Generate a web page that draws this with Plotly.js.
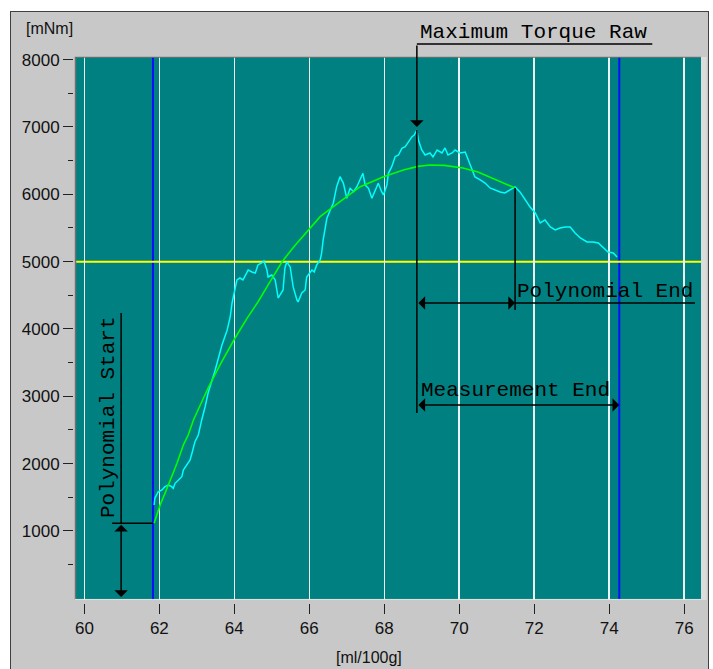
<!DOCTYPE html>
<html>
<head>
<meta charset="utf-8">
<script src="https://cdn.plot.ly/plotly-3.0.1.min.js"></script>
<style>
  html, body { margin: 0; padding: 0; background: #ffffff; overflow: hidden; }
  #frame { position: absolute; left: 10px; top: 11px; width: 697px; height: 700px;
           background: #C8C8C8; border: 1px solid #404040; }
  #chart { position: absolute; left: 0; top: 0; width: 713px; height: 669px; }
</style>
</head>
<body>
<div id="frame"></div>
<div id="chart"></div>
<script>
// ---- Raw torque measurement (cyan) ----
const rawX = [61.86, 61.88, 61.97, 62.07, 62.15, 62.24, 62.33, 62.37, 62.42, 62.51, 62.60, 62.64, 62.73, 62.82, 62.87, 62.91, 62.95, 63.04, 63.09, 63.13,
  63.22, 63.30, 63.49, 63.57, 63.67, 63.81, 63.89, 63.94, 64.07, 64.15, 64.23, 64.33, 64.37, 64.47, 64.56, 64.63, 64.73, 64.79, 64.87, 64.90,
  65.00, 65.09, 65.13, 65.17, 65.22, 65.30, 65.35, 65.40, 65.49, 65.53, 65.57, 65.67, 65.70, 65.80, 65.89, 65.93, 66.02, 66.07, 66.13, 66.20,
  66.29, 66.33, 66.37, 66.47, 66.56, 66.64, 66.73, 66.82, 66.91, 67.00, 67.09, 67.18, 67.27, 67.36, 67.43, 67.49, 67.58, 67.67, 67.76, 67.84,
  67.93, 67.98, 68.07, 68.11, 68.20, 68.29, 68.38, 68.47, 68.56, 68.64, 68.74, 68.80, 68.87, 68.91, 69.00, 69.09, 69.18, 69.22, 69.30, 69.41,
  69.54, 69.62, 69.70, 69.81, 69.89, 70.02, 70.16, 70.24, 70.34, 70.42, 70.56, 70.69, 70.82, 70.95, 71.09, 71.22, 71.36, 71.49, 71.62, 71.76,
  71.89, 72.03, 72.16, 72.29, 72.43, 72.56, 72.69, 72.83, 72.96, 73.09, 73.23, 73.41, 73.57, 73.71, 73.84, 73.97, 74.11, 74.21];
const rawY = [1386, 1485, 1583, 1609, 1658, 1683, 1658, 1634, 1708, 1757, 1806, 1906, 1980, 2054, 2154, 2228, 2326, 2425, 2574, 2649,
  2841, 3049, 3390, 3569, 3762, 3985, 4178, 4386, 4728, 4757, 4728, 4832, 4876, 4847, 4832, 4951, 4980, 5010, 4876, 4772,
  4802, 4728, 4609, 4460, 4505, 4579, 4906, 4995, 4921, 4772, 4624, 4431, 4401, 4535, 4579, 4772, 4847, 4876, 4847, 4951,
  5025, 5129, 5322, 5644, 5767, 5867, 6113, 6262, 6163, 5941, 6089, 6039, 6113, 6212, 6312, 6138, 6089, 5941, 6064, 6163,
  6039, 5990, 6138, 6312, 6410, 6559, 6584, 6683, 6707, 6782, 6856, 6881, 6955, 6807, 6658, 6584, 6609, 6614, 6554, 6658,
  6614, 6688, 6584, 6614, 6658, 6614, 6628, 6510, 6361, 6257, 6213, 6168, 6094, 6064, 6035, 6020, 6064, 6109, 6035, 5916,
  5812, 5723, 5574, 5619, 5515, 5470, 5500, 5515, 5515, 5426, 5352, 5292, 5292, 5277, 5203, 5144, 5129, 5069];

// ---- Polynomial fit (green) ----
const polyX = [61.86, 62.02, 62.15, 62.33, 62.47, 62.64, 62.77, 62.91, 63.30, 63.65, 64.02, 64.33, 64.63, 64.95, 65.27, 65.60, 65.97, 66.29, 66.82, 67.36,
  67.98, 68.51, 68.90, 69.22, 69.60, 70.10, 70.50, 70.82, 71.20, 71.49];
const polyY = [1114, 1386, 1559, 1806, 2005, 2277, 2425, 2648, 3123, 3500, 3866, 4150, 4401, 4700, 4995, 5230, 5470, 5668, 5890, 6113,
  6262, 6361, 6415, 6435, 6430, 6391, 6330, 6257, 6170, 6094];

// ---- Markers / reference values ----
const blueLineX = [61.83, 74.27];      // polynomial start / measurement end
const thresholdY = 5000;               // yellow limit
const xTicks = [60, 62, 64, 66, 68, 70, 72, 74, 76];
const yTicks = [1000, 2000, 3000, 4000, 5000, 6000, 7000, 8000];
const yMinorTicks = [500, 1500, 2500, 3500, 4500, 5500, 6500, 7500];
const labels = { maxRaw: 'Maximum Torque Raw', polyEnd: 'Polynomial End', measEnd: 'Measurement End', polyStart: 'Polynomial Start' };
const yUnit = '[mNm]', xUnit = '[ml/100g]';

// derived points
let pk = 0; rawY.forEach((v, i) => { if (v > rawY[pk]) pk = i; });
const peakX = rawX[pk], peakY = rawY[pk];
const polyStartX = blueLineX[0], polyStartY = polyY[0];
const polyEndX = polyX[polyX.length - 1], polyEndY = polyY[polyY.length - 1];
const measEndX = blueLineX[1];

// annotation helper levels (data units)
const polyEndArrowY = 4386, polyEndLineBottom = 4283, polyEndLineRight = 76.29;
const measArrowY = 2871, peakLineBottom = 2752;
const psLineX = 60.98, psLineTop = 4237, psHookLeft = 60.74, psArrowBottom = 20;
const maxLabelRight = 75.15;

const mono = { family: 'Liberation Mono, Courier New, monospace', size: 21, color: '#000' };
const black = { color: '#000', width: 1.5 };

const traces = [
  { x: rawX, y: rawY, type: 'scatter', mode: 'lines', line: { color: '#00FFFF', width: 1.5 }, hoverinfo: 'skip' },
  { x: polyX, y: polyY, type: 'scatter', mode: 'lines', line: { color: '#00FF00', width: 1.6 }, hoverinfo: 'skip' }
];

const shapes = [
  // blue marker lines
  ...blueLineX.map(v => ({ type: 'line', xref: 'x', yref: 'paper', x0: v, x1: v, y0: 0.0055, y1: 1, line: { color: '#0010FF', width: 2 }, layer: 'between' })),
  // yellow threshold
  { type: 'line', xref: 'paper', yref: 'y', x0: 0.0032, x1: 1, y0: thresholdY, y1: thresholdY, line: { color: '#FFFF00', width: 2 }, layer: 'between' },
  // plot border effects
  { type: 'line', xref: 'paper', yref: 'paper', x0: 0.004, x1: 0.004, y0: 0.0055, y1: 1, line: { color: '#707070', width: 1.5 } },
  { type: 'line', xref: 'paper', yref: 'paper', x0: 0.003, x1: 1, y0: 0.9995, y1: 0.9995, line: { color: '#707070', width: 1 } },
  { type: 'line', xref: 'paper', yref: 'paper', x0: 0.003, x1: 1, y0: 0.0065, y1: 0.0065, line: { color: '#E8E8E8', width: 1 } },
  { type: 'rect', xref: 'paper', yref: 'paper', x0: 1, x1: 1.009, y0: 0.0055, y1: 1, line: { width: 0 }, fillcolor: '#DCDCDC' },
  // maximum torque: underline + continuation below the peak
  { type: 'line', xref: 'x', yref: 'paper', x0: peakX, x1: maxLabelRight, y0: 1.0238, y1: 1.0238, line: black },
  { type: 'line', xref: 'x', yref: 'y', x0: peakX, x1: peakX, y0: peakY, y1: peakLineBottom, line: black },
  // polynomial end
  { type: 'line', xref: 'x', yref: 'y', x0: polyEndX, x1: polyEndX, y0: polyEndY, y1: polyEndLineBottom, line: black },
  { type: 'line', xref: 'x', yref: 'y', x0: polyEndX, x1: polyEndLineRight, y0: polyEndArrowY, y1: polyEndArrowY, line: black },
  // polynomial start
  { type: 'line', xref: 'x', yref: 'y', x0: psLineX, x1: psLineX, y0: psLineTop, y1: polyStartY, line: black },
  { type: 'line', xref: 'x', yref: 'y', x0: psHookLeft, x1: polyStartX, y0: polyStartY, y1: polyStartY, line: black }
];

const arrowBase = { text: '', showarrow: true, arrowcolor: '#000', arrowwidth: 1.5, arrowhead: 1, arrowsize: 1.5, startarrowhead: 1, startarrowsize: 1.5 };

const annotations = [
  // max torque arrow from label down to peak
  Object.assign({}, arrowBase, { xref: 'x', yref: 'y', x: peakX, y: peakY, ax: 0, ay: -86, standoff: 3 }),
  { text: labels.maxRaw, xref: 'x', yref: 'paper', x: peakX, y: 1.0238, xanchor: 'left', yanchor: 'bottom', xshift: 1, yshift: -2, showarrow: false, font: mono },
  // polynomial end double arrow
  Object.assign({}, arrowBase, { xref: 'x', yref: 'y', axref: 'x', ayref: 'y', x: polyEndX, y: polyEndArrowY, ax: peakX, ay: polyEndArrowY, arrowside: 'end+start' }),
  { text: labels.polyEnd, xref: 'x', yref: 'y', x: polyEndX, y: polyEndArrowY, xanchor: 'left', yanchor: 'bottom', xshift: 0, yshift: -2, showarrow: false, font: mono },
  // measurement end double arrow
  Object.assign({}, arrowBase, { xref: 'x', yref: 'y', axref: 'x', ayref: 'y', x: measEndX, y: measArrowY, ax: peakX, ay: measArrowY, arrowside: 'end+start' }),
  { text: labels.measEnd, xref: 'x', yref: 'y', x: peakX, y: measArrowY, xanchor: 'left', yanchor: 'bottom', xshift: 2, yshift: 1, showarrow: false, font: mono },
  // polynomial start double arrow (vertical)
  Object.assign({}, arrowBase, { xref: 'x', yref: 'y', axref: 'x', ayref: 'y', x: psLineX, y: psArrowBottom, ax: psLineX, ay: polyStartY, arrowside: 'end+start' }),
  { text: labels.polyStart, xref: 'x', yref: 'y', x: 60.66, y: 2693, textangle: -90, xanchor: 'center', yanchor: 'middle', showarrow: false, font: mono },
  // axis unit labels
  { text: yUnit, xref: 'paper', yref: 'paper', x: -0.078, y: 1.0513, xanchor: 'left', yanchor: 'middle', showarrow: false,
    font: { family: 'Liberation Sans, Arial, sans-serif', size: 16, color: '#111' } },
  { text: xUnit, xref: 'paper', yref: 'paper', x: 0.471, y: -0.099, xanchor: 'center', yanchor: 'middle', showarrow: false,
    font: { family: 'Liberation Sans, Arial, sans-serif', size: 16, color: '#111' } }
];

const tickFont = { family: 'Liberation Sans, Arial, sans-serif', size: 17, color: '#111' };

const layout = {
  width: 713, height: 669,
  margin: { l: 73, r: 12, t: 57, b: 66, pad: 0 },
  paper_bgcolor: 'rgba(0,0,0,0)',
  plot_bgcolor: '#008080',
  showlegend: false,
  xaxis: {
    range: [59.75, 76.45], domain: [0.0032, 1], anchor: 'free', position: 0,
    tickmode: 'array', tickvals: xTicks, ticktext: xTicks.map(String),
    ticks: 'outside', ticklen: 10, tickwidth: 1, tickcolor: '#222',
    showgrid: true, gridcolor: '#EAF2F2', gridwidth: 1.5,
    zeroline: false, showline: false, tickfont: tickFont, fixedrange: true
  },
  yaxis: {
    range: [-25, 8039], domain: [0.0055, 1], anchor: 'free', position: 0,
    tickmode: 'array', tickvals: yTicks, ticktext: yTicks.map(String),
    ticks: 'outside', ticklen: 10, tickwidth: 1, tickcolor: '#222',
    minor: { tickmode: 'array', tickvals: yMinorTicks, ticks: 'outside', ticklen: 5, tickwidth: 1, tickcolor: '#222', showgrid: false },
    showgrid: false, zeroline: false, showline: false, tickfont: tickFont, fixedrange: true
  },
  shapes: shapes,
  annotations: annotations
};

Plotly.newPlot('chart', traces, layout, { displayModeBar: false, staticPlot: true });
</script>
</body>
</html>
